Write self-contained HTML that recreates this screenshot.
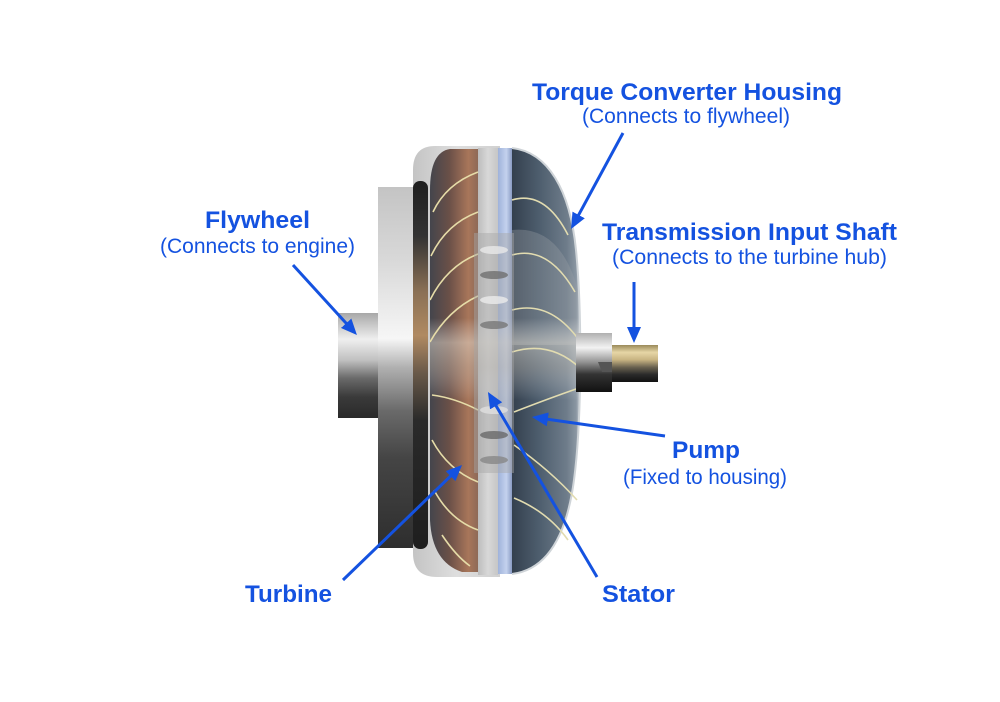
<!DOCTYPE html>
<html><head><meta charset="utf-8"><style>
html,body{margin:0;padding:0;background:#fff;}
svg{display:block;}
.b{font-family:"Liberation Sans",Arial,sans-serif;font-weight:bold;font-size:24px;fill:#1452e0;}
.r{font-family:"Liberation Sans",Arial,sans-serif;font-size:21px;fill:#1452e0;}
</style></head><body>
<svg width="1000" height="702" viewBox="0 0 1000 702" xmlns="http://www.w3.org/2000/svg">
<defs>
<linearGradient id="gHub" x1="0" y1="0" x2="0" y2="1">
<stop offset="0" stop-color="#a8a8a8"/><stop offset="0.25" stop-color="#efefef"/><stop offset="0.45" stop-color="#c0c0c0"/><stop offset="0.62" stop-color="#6a6a6a"/><stop offset="0.8" stop-color="#3a3a3a"/><stop offset="1" stop-color="#2a2a2a"/></linearGradient>
<linearGradient id="gFly" x1="0" y1="0" x2="0" y2="1">
<stop offset="0" stop-color="#c4c4c4"/><stop offset="0.2" stop-color="#d8d8d8"/><stop offset="0.42" stop-color="#f6f6f6"/><stop offset="0.5" stop-color="#b0b0b0"/><stop offset="0.62" stop-color="#6a6a6a"/><stop offset="0.75" stop-color="#454545"/><stop offset="1" stop-color="#2e2e2e"/></linearGradient>
<linearGradient id="gStrip" x1="0" y1="0" x2="0" y2="1">
<stop offset="0" stop-color="#1e1e1e"/><stop offset="0.15" stop-color="#333"/><stop offset="0.3" stop-color="#8a7055"/><stop offset="0.42" stop-color="#b08a62"/><stop offset="0.52" stop-color="#6a5a4a"/><stop offset="0.65" stop-color="#2a2a2a"/><stop offset="1" stop-color="#1e1e1e"/></linearGradient>
<linearGradient id="gShell" x1="0" y1="0" x2="1" y2="0">
<stop offset="0" stop-color="#c4c4c4"/><stop offset="0.5" stop-color="#dedede"/><stop offset="1" stop-color="#d0d0d0"/></linearGradient>
<linearGradient id="gTurb" x1="0" y1="0" x2="1" y2="0">
<stop offset="0" stop-color="#44454c"/><stop offset="0.4" stop-color="#6a5048"/><stop offset="0.8" stop-color="#a8765a"/><stop offset="1" stop-color="#8e6a58"/></linearGradient>
<linearGradient id="gPump" x1="0" y1="0" x2="1" y2="0">
<stop offset="0" stop-color="#34404e"/><stop offset="0.4" stop-color="#4e5e6e"/><stop offset="0.8" stop-color="#6e7c8a"/><stop offset="0.94" stop-color="#8a96a2"/><stop offset="1" stop-color="#c8ced4"/></linearGradient>
<linearGradient id="gStator" x1="0" y1="0" x2="1" y2="0">
<stop offset="0" stop-color="#bdbdbd"/><stop offset="0.5" stop-color="#d8d8d8"/><stop offset="1" stop-color="#c6c6c6"/></linearGradient>
<linearGradient id="gBlue" x1="0" y1="0" x2="1" y2="0">
<stop offset="0" stop-color="#9fb2da"/><stop offset="0.6" stop-color="#c4d2ee"/><stop offset="1" stop-color="#8a9cc4"/></linearGradient>
<linearGradient id="gMid" x1="0" y1="0" x2="0" y2="1">
<stop offset="0" stop-color="#fff" stop-opacity="0"/><stop offset="0.3" stop-color="#f2ece0" stop-opacity="0.45"/><stop offset="0.6" stop-color="#d8d0c4" stop-opacity="0.35"/><stop offset="1" stop-color="#fff" stop-opacity="0"/></linearGradient>
<linearGradient id="gCollar" x1="0" y1="0" x2="0" y2="1">
<stop offset="0" stop-color="#b0b0b0"/><stop offset="0.25" stop-color="#f2f2f2"/><stop offset="0.5" stop-color="#909090"/><stop offset="0.7" stop-color="#333"/><stop offset="1" stop-color="#111"/></linearGradient>
<linearGradient id="gShaft" x1="0" y1="0" x2="0" y2="1">
<stop offset="0" stop-color="#9a8a5a"/><stop offset="0.2" stop-color="#e6d6a6"/><stop offset="0.4" stop-color="#c8b482"/><stop offset="0.6" stop-color="#6a6250"/><stop offset="0.8" stop-color="#2a2a2a"/><stop offset="1" stop-color="#111"/></linearGradient>
<marker id="ah" markerWidth="16" markerHeight="14" refX="10" refY="7" orient="auto" markerUnits="userSpaceOnUse">
<path d="M0,0 L16,7 L0,14 Z" fill="#1452e0"/></marker>
</defs>

<!-- hub -->
<rect x="338" y="313" width="42" height="105" fill="url(#gHub)"/>
<!-- flywheel disc -->
<rect x="378" y="187" width="37" height="361" fill="url(#gFly)"/>
<!-- housing shell -->
<path d="M435 146 H500 V577 H437 Q413 577 413 553 V170 Q413 146 435 146 Z" fill="url(#gShell)"/>
<!-- dark strip -->
<rect x="413" y="181" width="15" height="368" rx="7" fill="url(#gStrip)"/>
<!-- turbine -->
<path d="M478 149 H450 Q430 152 430 190 V520 Q432 562 462 572 H478 Z" fill="url(#gTurb)"/>
<!-- stator column -->
<rect x="478" y="148" width="20" height="427" fill="url(#gStator)"/>
<!-- blue stripe -->
<rect x="498" y="148" width="14" height="426" fill="url(#gBlue)"/>
<!-- pump -->
<path d="M512 148 C548 152 570 190 576 250 C582 310 582 420 574 480 C566 540 545 570 512 574 Z" fill="url(#gPump)"/>
<path d="M512 148 C548 152 570 190 576 250 C582 310 582 420 574 480 C566 540 545 570 512 574" fill="none" stroke="#cfd4d8" stroke-width="2"/>
<!-- pump light upper region -->
<path d="M512 230 Q560 225 578 290 V345 H512 Z" fill="#9aa0a6" opacity="0.35"/>
<!-- middle shaft band -->
<rect x="430" y="318" width="150" height="82" fill="url(#gMid)"/>

<!-- turbine blade lines -->
<g fill="none" stroke="#e6dca8" stroke-width="1.6">
<path d="M433 212 Q446 184 478 172"/>
<path d="M431 256 Q446 224 478 212"/>
<path d="M430 300 Q447 266 478 254"/>
<path d="M430 342 Q448 310 478 296"/>
<path d="M432 395 Q455 398 478 410"/>
<path d="M432 440 Q448 470 478 482"/>
<path d="M434 490 Q450 520 478 530"/>
<path d="M442 535 Q456 556 470 566"/>
</g>
<!-- pump blade lines -->
<g fill="none" stroke="#e2dcb0" stroke-width="1.6">
<path d="M512 200 Q545 190 568 235"/>
<path d="M512 255 Q548 245 575 292"/>
<path d="M512 310 Q550 300 579 340"/>
<path d="M512 352 Q550 340 580 368"/>
<path d="M514 412 Q550 398 579 388"/>
<path d="M514 445 Q550 470 577 500"/>
<path d="M514 498 Q548 512 568 540"/>
</g>

<!-- stator translucent block -->
<rect x="474" y="233" width="40" height="240" fill="#a6a6a6" opacity="0.45"/>
<g opacity="0.8">
<ellipse cx="494" cy="250" rx="14" ry="4" fill="#e8e8e8"/>
<ellipse cx="494" cy="275" rx="14" ry="4" fill="#707070"/>
<ellipse cx="494" cy="300" rx="14" ry="4" fill="#ececec"/>
<ellipse cx="494" cy="325" rx="14" ry="4" fill="#787878"/>
<ellipse cx="494" cy="410" rx="14" ry="4" fill="#e0e0e0"/>
<ellipse cx="494" cy="435" rx="14" ry="4" fill="#6a6a6a"/>
<ellipse cx="494" cy="460" rx="14" ry="4" fill="#888"/>
</g>

<!-- right collar and shaft -->
<rect x="576" y="333" width="36" height="59" fill="url(#gCollar)"/>
<rect x="612" y="345" width="46" height="37" fill="url(#gShaft)"/>
<path d="M598 362 H612 V372 H602 Z" fill="#555"/>

<!-- arrows -->
<g stroke="#1452e0" stroke-width="3" fill="none">
<line x1="293" y1="265" x2="352.9" y2="330.6" marker-end="url(#ah)"/>
<line x1="623" y1="133" x2="573.9" y2="223.7" marker-end="url(#ah)"/>
<line x1="634" y1="282" x2="634" y2="337" marker-end="url(#ah)"/>
<line x1="665" y1="436" x2="537.9" y2="417.9" marker-end="url(#ah)"/>
<line x1="597" y1="577" x2="491" y2="397.2" marker-end="url(#ah)"/>
<line x1="343" y1="580" x2="457.7" y2="469.2" marker-end="url(#ah)"/>
</g>

<!-- labels -->
<text class="b" x="687" y="100" text-anchor="middle" textLength="310" lengthAdjust="spacingAndGlyphs">Torque Converter Housing</text>
<text class="r" x="686" y="123" text-anchor="middle" textLength="208" lengthAdjust="spacingAndGlyphs">(Connects to flywheel)</text>
<text class="b" x="749.5" y="240" text-anchor="middle" textLength="295" lengthAdjust="spacingAndGlyphs">Transmission Input Shaft</text>
<text class="r" x="749.5" y="264" text-anchor="middle" textLength="275" lengthAdjust="spacingAndGlyphs">(Connects to the turbine hub)</text>
<text class="b" x="257.5" y="228" text-anchor="middle" textLength="105" lengthAdjust="spacingAndGlyphs">Flywheel</text>
<text class="r" x="257.5" y="253" text-anchor="middle" textLength="195" lengthAdjust="spacingAndGlyphs">(Connects to engine)</text>
<text class="b" x="706" y="458" text-anchor="middle" textLength="68" lengthAdjust="spacingAndGlyphs">Pump</text>
<text class="r" x="705" y="484" text-anchor="middle" textLength="164" lengthAdjust="spacingAndGlyphs">(Fixed to housing)</text>
<text class="b" x="288.5" y="602" text-anchor="middle" textLength="87" lengthAdjust="spacingAndGlyphs">Turbine</text>
<text class="b" x="638.5" y="602" text-anchor="middle" textLength="73" lengthAdjust="spacingAndGlyphs">Stator</text>
</svg>
</body></html>
